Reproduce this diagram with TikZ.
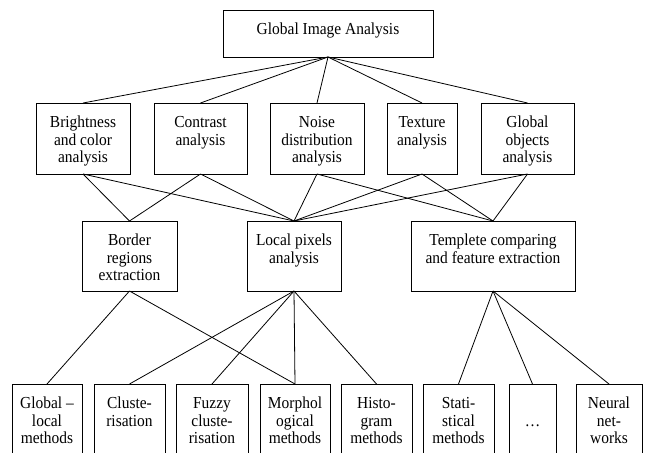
\documentclass[tikz,border=0pt]{standalone}
\usepackage{fontspec}
\setmainfont{Liberation Serif}[FakeStretch=0.92]
\newcommand\bt[3]{\parbox[c][#2pt][t]{#1pt}{\centering\rule{0pt}{24.5pt}#3}}
\begin{document}
\begin{tikzpicture}[x=1pt,y=-1pt,
  bx/.style={draw=black, line width=0.9pt, inner sep=0pt, outer sep=0pt, anchor=north west,
    font=\fontsize{16.8}{17.5}\selectfont},
  ln/.style={draw=black, line width=0.8pt}]
\useasboundingbox (0,0) rectangle (646,453);
\clip (0,0) rectangle (646,453);
% level 1
\node[bx] (gia) at (223,10) {\bt{210}{47}{Global Image Analysis}};
% level 2
\node[bx] (b1) at (36,103)  {\bt{94}{71}{Brightness\\and color\\analysis}};
\node[bx] (b2) at (154,103) {\bt{93}{71}{Contrast\\analysis}};
\node[bx] (b3) at (270,103) {\bt{94}{71}{Noise\\distribution\\analysis}};
\node[bx] (b4) at (387,103) {\bt{70}{71}{Texture\\analysis}};
\node[bx] (b5) at (481,103) {\bt{93}{71}{Global\\objects\\analysis}};
% level 3
\node[bx] (c1) at (82,221)  {\bt{95}{70}{Border\\regions\\extraction}};
\node[bx] (c2) at (247,221) {\bt{94}{70}{Local pixels\\analysis}};
\node[bx] (c3) at (411,221) {\bt{164}{70}{Templete comparing\\and feature extraction}};
% level 4
\node[bx] (d1) at (12,384)  {\bt{70}{80}{Global --\\local\\methods}};
\node[bx] (d2) at (94,384)  {\bt{71}{80}{Cluste-\\risation}};
\node[bx] (d3) at (176,384) {\bt{72}{80}{Fuzzy\\cluste-\\risation}};
\node[bx] (d4) at (260,384) {\bt{70}{80}{Morphol\\ogical\\methods}};
\node[bx] (d5) at (341,384) {\bt{71}{80}{Histo-\\gram\\methods}};
\node[bx] (d6) at (423,384) {\bt{71}{80}{Stati-\\stical\\methods}};
\node[bx] (d7) at (509,384) {\bt{47}{80}{\mbox{}\\\ldots}};
\node[bx] (d8) at (576,384) {\bt{66}{80}{Neural\\net-\\works}};
% connectors level 1 -> 2
\foreach \t in {b1,b2,b3,b4,b5} \draw[ln] (gia.south) -- (\t.north);
% level 2 -> 3
\draw[ln] (b1.south) -- (c1.north);
\draw[ln] (b1.south) -- (c2.north);
\draw[ln] (b2.south) -- (c1.north);
\draw[ln] (b2.south) -- (c2.north);
\draw[ln] (b3.south) -- (c2.north);
\draw[ln] (b3.south) -- (c3.north);
\draw[ln] (b4.south) -- (c2.north);
\draw[ln] (b4.south) -- (c3.north);
\draw[ln] (b5.south) -- (c2.north);
\draw[ln] (b5.south) -- (c3.north);
% level 3 -> 4
\draw[ln] (c1.south) -- (d1.north);
\draw[ln] (c1.south) -- (d4.north);
\draw[ln] (c2.south) -- (d2.north);
\draw[ln] (c2.south) -- (d3.north);
\draw[ln] (c2.south) -- (d4.north);
\draw[ln] (c2.south) -- (d5.north);
\draw[ln] (c3.south) -- (d6.north);
\draw[ln] (c3.south) -- (d7.north);
\draw[ln] (c3.south) -- (d8.north);
\end{tikzpicture}
\end{document}
